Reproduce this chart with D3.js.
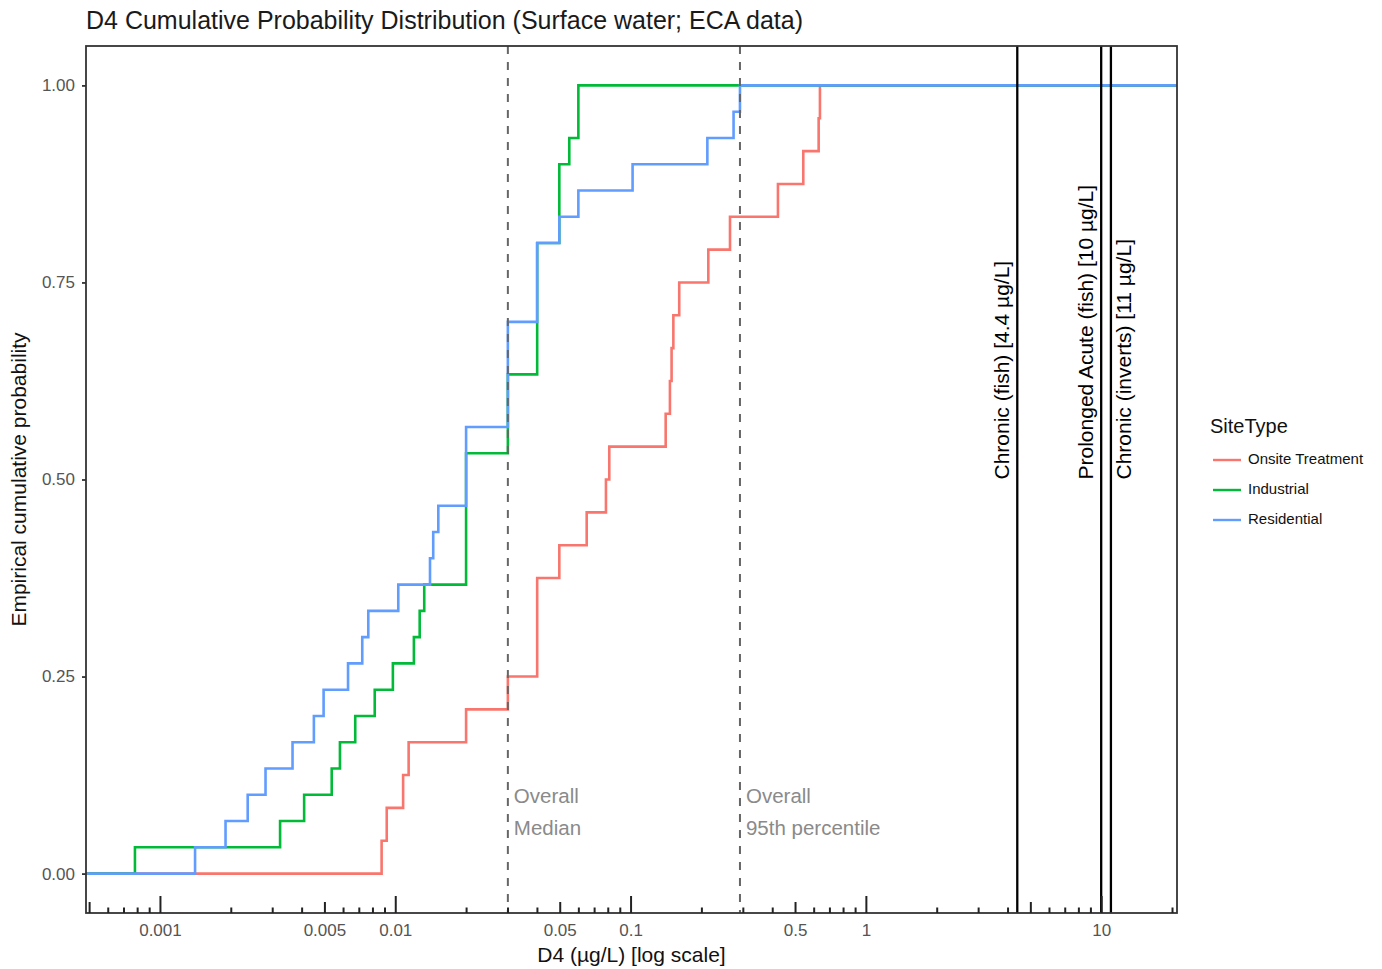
<!DOCTYPE html>
<html><head><meta charset="utf-8">
<script src="https://cdn.jsdelivr.net/npm/d3@7"></script>
<style>
body{margin:0;background:#fff}
svg{display:block}
text{font-family:"Liberation Sans",Arial,Helvetica,sans-serif}
</style>
</head><body>
<svg id="chart" width="1382" height="969"></svg>
<script>
// ---------------- data ----------------
const seriesNames  = ["Onsite Treatment", "Industrial", "Residential"];
const seriesColors = ["#F8766D", "#00BA38", "#619CFF"];

// D4 concentrations (µg/L) read from the step positions of each ECDF
const onsiteValues = [0.00875, 0.0092, 0.0108, 0.0114, 0.020, 0.0301, 0.0401, 0.0401,
  0.0401, 0.0498, 0.0651, 0.0786, 0.0812, 0.141, 0.147, 0.1494, 0.152, 0.161, 0.214,
  0.2646, 0.423, 0.542, 0.630, 0.638];
const industrialValues = [0.000783, 0.00324, 0.0041, 0.00537, 0.00582, 0.00676, 0.00818,
  0.00977, 0.0120, 0.0127, 0.01328, 0.020, 0.020, 0.020, 0.020, 0.020, 0.0301, 0.0301,
  0.0301, 0.0401, 0.0401, 0.0401, 0.0401, 0.0401, 0.0498, 0.0498, 0.0498, 0.0549, 0.0600, 0.0600];
const residentialValues = [0.00141, 0.0019, 0.00236, 0.00281, 0.00366, 0.00451, 0.00496,
  0.0063, 0.00724, 0.00768, 0.0103, 0.01405, 0.0145, 0.01524, 0.020, 0.020, 0.020, 0.0301,
  0.0301, 0.0301, 0.0301, 0.0401, 0.0401, 0.0401, 0.0498, 0.0600, 0.102, 0.212, 0.274, 0.2917];

const overallValues = [0.0301, 0.2917];
const overallLabels = [["Overall", "Median"], ["Overall", "95th percentile"]];

const thresholdValues = [4.4, 10, 11];
const thresholdLabels = ["Chronic (fish) [4.4 µg/L]", "Prolonged Acute (fish) [10 µg/L]", "Chronic (inverts) [11 µg/L]"];

const xTickValues = [0.001, 0.005, 0.01, 0.05, 0.1, 0.5, 1, 10];
const xTickLabels = ["0.001", "0.005", "0.01", "0.05", "0.1", "0.5", "1", "10"];
const yTickValues = [0, 0.25, 0.5, 0.75, 1];
const yTickLabels = ["0.00", "0.25", "0.50", "0.75", "1.00"];

const titleText = "D4 Cumulative Probability Distribution (Surface water; ECA data)";
const xTitle = "D4 (µg/L) [log scale]";
const yTitle = "Empirical cumulative probability";
const legendTitle = "SiteType";

// ---------------- layout ----------------
const P = {left: 86, right: 1177, top: 46, bottom: 913};
const svg = d3.select("#chart");

const x = d3.scaleLog().domain([0.000485, 21.0]).range([P.left, P.right]);
const y = d3.scaleLinear().domain([-0.05, 1.05]).range([P.bottom, P.top]);

svg.append("defs").append("clipPath").attr("id", "clip")
  .append("rect").attr("x", P.left).attr("y", P.top)
  .attr("width", P.right - P.left).attr("height", P.bottom - P.top);

// title
svg.append("text").attr("x", 86).attr("y", 29)
  .attr("font-size", 25).attr("fill", "#1a1a1a").text(titleText);

// ECDF step lines
const allSeries = [onsiteValues, industrialValues, residentialValues];
const lineGen = d3.line().x(d => x(d[0])).y(d => y(d[1])).curve(d3.curveStepAfter);
const gLines = svg.append("g").attr("clip-path", "url(#clip)");
allSeries.forEach((vals, i) => {
  const s = vals.slice().sort(d3.ascending);
  const n = s.length;
  const pts = [[x.domain()[0], 0]];
  s.forEach((v, k) => pts.push([v, (k + 1) / n]));
  pts.push([x.domain()[1], 1]);
  gLines.append("path").attr("d", lineGen(pts))
    .attr("fill", "none").attr("stroke", seriesColors[i])
    .attr("stroke-width", 2.6).attr("stroke-linejoin", "miter");
});

// dashed overall lines
overallValues.forEach((v, i) => {
  svg.append("line").attr("x1", x(v)).attr("x2", x(v))
    .attr("y1", P.top).attr("y2", P.bottom)
    .attr("stroke", "#666").attr("stroke-width", 2).attr("stroke-dasharray", "8,8");
  const t = svg.append("text").attr("x", x(v) + 6).attr("y", 803)
    .attr("font-size", 20.5).attr("fill", "#8a8a8a");
  overallLabels[i].forEach((l, j) => {
    t.append("tspan").attr("x", x(v) + 6).attr("y", 803 + j * 32).text(l);
  });
});

// threshold lines
const thrOffsets = [-8, -8, 20];
thresholdValues.forEach((v, i) => {
  svg.append("line").attr("x1", x(v)).attr("x2", x(v))
    .attr("y1", P.top).attr("y2", P.bottom)
    .attr("stroke", "#000").attr("stroke-width", 2.3);
  svg.append("text")
    .attr("transform", `translate(${x(v) + thrOffsets[i]},${y(0.5)}) rotate(-90)`)
    .attr("font-size", 21).attr("fill", "#000").text(thresholdLabels[i]);
});

// panel border
svg.append("rect").attr("x", P.left).attr("y", P.top)
  .attr("width", P.right - P.left).attr("height", P.bottom - P.top)
  .attr("fill", "none").attr("stroke", "#333").attr("stroke-width", 1.8);

// log ticks inside bottom (annotation_logticks style)
const allLog = [];
for (let d = -4; d <= 1; d++) for (let k = 1; k <= 9; k++) {
  const v = k * Math.pow(10, d);
  if (v >= x.domain()[0] && v <= x.domain()[1]) allLog.push({v, k});
}
const tickSets = [
  {vals: allLog.filter(t => t.k === 1).map(t => t.v), len: 17},
  {vals: allLog.filter(t => t.k === 5).map(t => t.v), len: 11},
  {vals: allLog.filter(t => t.k !== 1 && t.k !== 5).map(t => t.v), len: 5.5}
];
tickSets.forEach(ts => {
  const g = svg.append("g").attr("transform", `translate(0,${P.bottom})`)
    .call(d3.axisTop(x).tickValues(ts.vals).tickSize(ts.len).tickFormat(""));
  g.select(".domain").remove();
  g.selectAll(".tick line").attr("stroke", "#222").attr("stroke-width", 2);
});

// x labels
const gx = svg.append("g").attr("transform", `translate(0,${P.bottom})`)
  .call(d3.axisBottom(x).tickValues(xTickValues).tickSize(0).tickPadding(11)
    .tickFormat((d, i) => xTickLabels[i]));
gx.select(".domain").remove();
gx.selectAll("text").attr("font-size", 17).attr("fill", "#555")
  .attr("font-family", '"Liberation Sans",Arial,sans-serif');

// y axis
const gy = svg.append("g").attr("transform", `translate(${P.left},0)`)
  .call(d3.axisLeft(y).tickValues(yTickValues).tickSize(4).tickPadding(7)
    .tickFormat((d, i) => yTickLabels[i]));
gy.select(".domain").remove();
gy.selectAll(".tick line").attr("stroke", "#333").attr("stroke-width", 1.8);
gy.selectAll("text").attr("font-size", 17).attr("fill", "#555")
  .attr("font-family", '"Liberation Sans",Arial,sans-serif');

// axis titles
svg.append("text").attr("x", (P.left + P.right) / 2).attr("y", 962)
  .attr("text-anchor", "middle").attr("font-size", 21).attr("fill", "#111").text(xTitle);
svg.append("text").attr("transform", `translate(26,${(P.top + P.bottom) / 2}) rotate(-90)`)
  .attr("text-anchor", "middle").attr("font-size", 21).attr("fill", "#111").text(yTitle);

// legend
svg.append("text").attr("x", 1210).attr("y", 433).attr("font-size", 20)
  .attr("fill", "#111").text(legendTitle);
seriesNames.forEach((nm, i) => {
  const cy = 459 + i * 30;
  svg.append("line").attr("x1", 1213).attr("x2", 1241).attr("y1", cy + 1).attr("y2", cy + 1)
    .attr("stroke", seriesColors[i]).attr("stroke-width", 2.4);
  svg.append("text").attr("x", 1248).attr("y", cy).attr("dy", "0.35em")
    .attr("font-size", 15).attr("fill", "#111").text(nm);
});
</script>
</body></html>
